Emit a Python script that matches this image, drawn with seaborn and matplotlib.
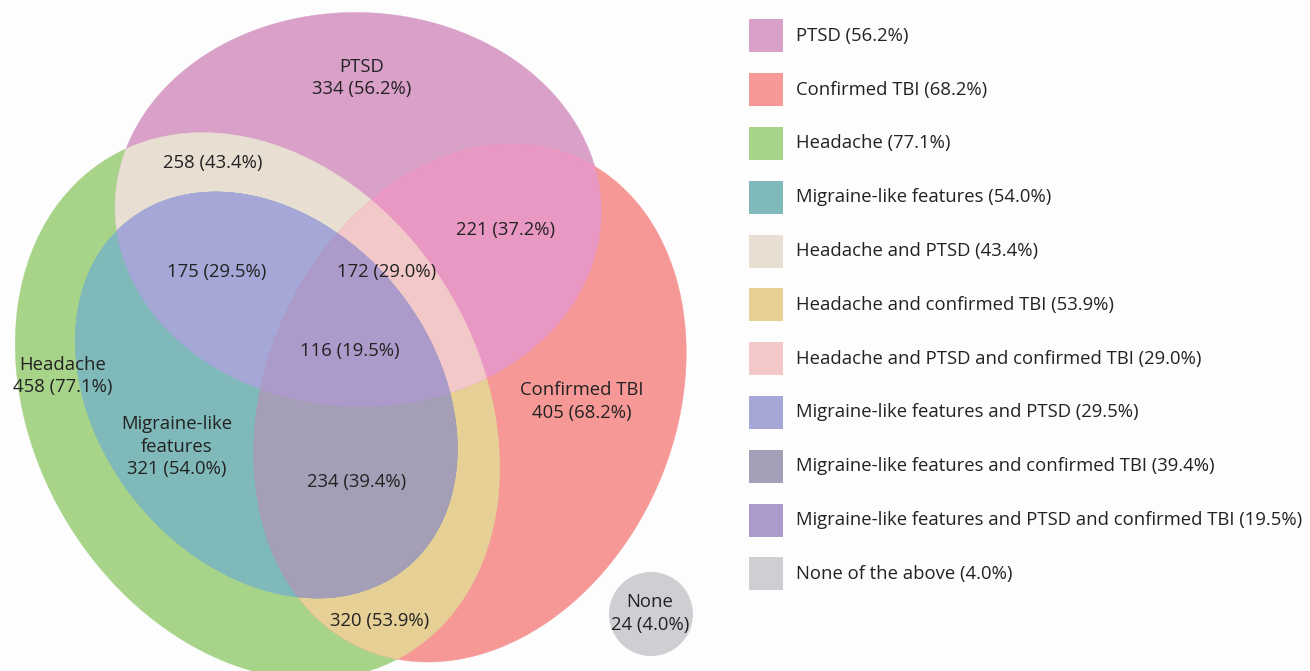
import numpy as np
import matplotlib
matplotlib.use("Agg")
import matplotlib.pyplot as plt
import seaborn as sns
from matplotlib.patches import Polygon, Rectangle, Circle
from itertools import combinations

sns.set_theme(style="white")
plt.rcParams['font.family'] = ['Open Sans', 'DejaVu Sans']

# ---------------- data ----------------
set_names = ["Headache", "PTSD", "Confirmed TBI", "Migraine-like\nfeatures"]
set_counts = [458, 334, 405, 321]
set_pcts = [77.1, 56.2, 68.2, 54.0]

overlap_counts = [258, 221, 175, 172, 116, 234, 320]
overlap_pcts = [43.4, 37.2, 29.5, 29.0, 19.5, 39.4, 53.9]

none_count = 24
none_pct = 4.0

legend_labels = [
    "PTSD (56.2%)", "Confirmed TBI (68.2%)", "Headache (77.1%)",
    "Migraine-like features (54.0%)", "Headache and PTSD (43.4%)",
    "Headache and confirmed TBI (53.9%)",
    "Headache and PTSD and confirmed TBI (29.0%)",
    "Migraine-like features and PTSD (29.5%)",
    "Migraine-like features and confirmed TBI (39.4%)",
    "Migraine-like features and PTSD and confirmed TBI (19.5%)",
    "None of the above (4.0%)",
]

# ---------------- style / layout ----------------
legend_colors = ["#D9A0C8", "#F59896", "#A8D48A", "#80B9B9", "#E8DED2",
                 "#E6D096", "#F2C8C8", "#A5A8D6", "#A49EB6", "#AC9BCA", "#D0CED2"]

# ellipse geometry (centre x, centre y, semi-axis a, semi-axis b, angle of a in degrees)
geo = {
    "H": (257.5, 406.0, 223.0, 289.3, 149.1),
    "P": (358.2, 209.5, 197.0, 243.1, 91.6),
    "T": (470.0, 403.0, 205.0, 268.0, -156.5),
    "M": (266.3, 395.0, 222.3, 168.2, -128.5),
}
none_circle = (651, 614, 42)

region_color = {
    frozenset("P"): "#D9A0C8", frozenset("T"): "#F59896", frozenset("H"): "#A8D48A",
    frozenset("PT"): "#E998C4", frozenset("HP"): "#E8DED2", frozenset("HT"): "#E6D096",
    frozenset("HM"): "#80B9B9", frozenset("HPT"): "#F2C8C8", frozenset("HMP"): "#A5A8D6",
    frozenset("HMT"): "#A49EB6", frozenset("HMPT"): "#AC9BCA",
}


def ell_poly(cx, cy, a, b, ang, n=900):
    t = np.linspace(0, 2*np.pi, n, endpoint=False)
    ph = np.radians(ang)
    x = cx + a*np.cos(t)*np.cos(ph) - b*np.sin(t)*np.sin(ph)
    y = cy + a*np.cos(t)*np.sin(ph) + b*np.sin(t)*np.cos(ph)
    return np.column_stack([x, y])


def inside(P, g):
    cx, cy, a, b, ang = g
    ph = np.radians(ang)
    dx = P[:, 0] - cx
    dy = P[:, 1] - cy
    u = dx*np.cos(ph) + dy*np.sin(ph)
    v = -dx*np.sin(ph) + dy*np.cos(ph)
    return (u/a)**2 + (v/b)**2 <= 1.0 + 1e-9


def intersect(keys):
    allp = []
    for k in keys:
        P = ell_poly(*geo[k])
        mask = np.ones(len(P), bool)
        for o in keys:
            if o != k:
                mask &= inside(P, geo[o])
        allp.append(P[mask])
    Q = np.vstack(allp)
    if len(Q) < 3:
        return None
    c = Q.mean(0)
    order = np.argsort(np.arctan2(Q[:, 1]-c[1], Q[:, 0]-c[0]))
    return Q[order]


W, Hh = 1310, 671
BG = "#FDFDFD"
fig = plt.figure(figsize=(W/100, Hh/100), dpi=100)
fig.patch.set_facecolor(BG)
ax = fig.add_axes([0, 0, 1, 1])
ax.set_facecolor(BG)
ax.set_xlim(0, W)
ax.set_ylim(Hh, 0)
ax.axis("off")

keys = ["H", "P", "T", "M"]
subsets = [c for r in range(1, 5) for c in combinations(keys, r)]
subsets.sort(key=len)
for s in subsets:
    poly = intersect(list(s))
    if poly is None:
        continue
    cs = set(s)
    if "M" in cs:
        cs.add("H")
    col = region_color[frozenset(cs)]
    ax.add_patch(Polygon(poly, closed=True, facecolor=col, edgecolor=col, lw=0.3))

ax.add_patch(Circle(none_circle[:2], none_circle[2], facecolor=legend_colors[-1], edgecolor="none"))

TXT = "#222222"
fs = 13.3


def lab(x, y, s):
    ax.text(x, y, s, ha="center", va="center", fontsize=fs, color=TXT, linespacing=1.3)


fmt = lambda c, p: f"{c} ({p:.1f}%)"
lab(362, 78, f"{set_names[1]}\n{fmt(set_counts[1], set_pcts[1])}")
lab(63, 376, f"{set_names[0]}\n{fmt(set_counts[0], set_pcts[0])}")
lab(582, 401.5, f"{set_names[2]}\n{fmt(set_counts[2], set_pcts[2])}")
lab(177, 446.5, f"{set_names[3]}\n{fmt(set_counts[3], set_pcts[3])}")
ov_pos = [(213, 163), (506, 230), (217, 272), (387, 272), (350, 351), (357, 482), (380, 621)]
for (x, y), c, p in zip(ov_pos, overlap_counts, overlap_pcts):
    lab(x, y, fmt(c, p))
lab(650, 613.5, f"None\n{fmt(none_count, none_pct)}")

for i, (l, c) in enumerate(zip(legend_labels, legend_colors)):
    yc = 35.8 + i*53.8
    ax.add_patch(Rectangle((749, yc-16.5), 33.5, 33, facecolor=c, edgecolor="none"))
    ax.text(796, yc, l, ha="left", va="center", fontsize=fs, color=TXT)

fig.savefig("out.png", dpi=100, facecolor=BG)
